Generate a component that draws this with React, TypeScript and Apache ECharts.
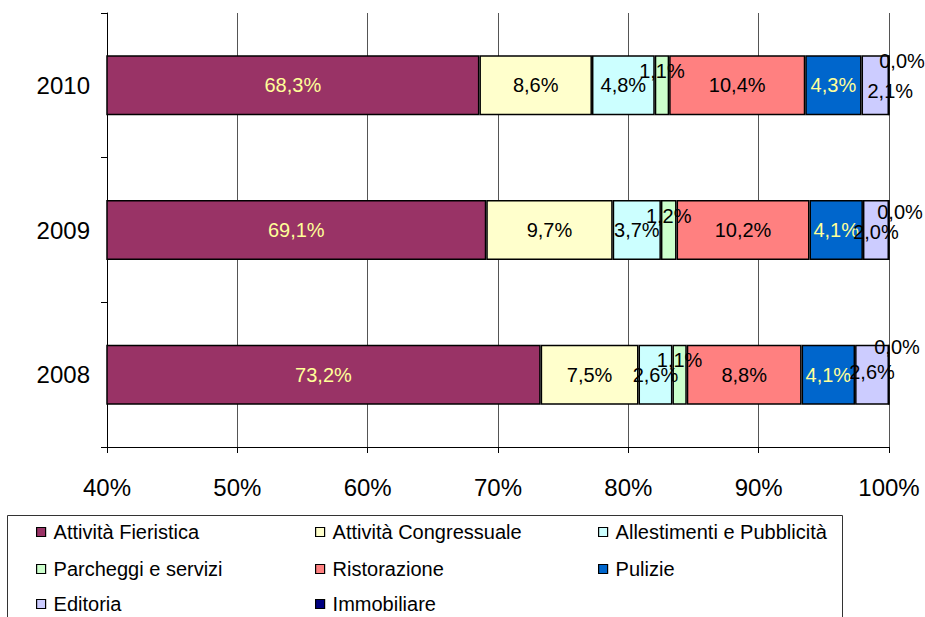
import React, { useEffect, useRef } from "react";
import * as echarts from "echarts";

const years = ["2008", "2009", "2010"];
const seriesNames = [
  "Attività Fieristica",
  "Attività Congressuale",
  "Allestimenti e Pubblicità",
  "Parcheggi e servizi",
  "Ristorazione",
  "Pulizie",
  "Editoria",
  "Immobiliare",
];
// values per series, order: 2008, 2009, 2010
const fieristica = [73.2, 69.1, 68.3];
const congressuale = [7.5, 9.7, 8.6];
const allestimenti = [2.6, 3.7, 4.8];
const parcheggi = [1.1, 1.2, 1.1];
const ristorazione = [8.8, 10.2, 10.4];
const pulizie = [4.1, 4.1, 4.3];
const editoria = [2.6, 2.0, 2.1];
const immobiliare = [0.0, 0.0, 0.0];
const xTicks = [40, 50, 60, 70, 80, 90, 100];

const allValues = [fieristica, congressuale, allestimenti, parcheggi, ristorazione, pulizie, editoria, immobiliare];
const colors = ["#993366", "#FFFFCC", "#CCFFFF", "#CCFFCC", "#FF8080", "#0066CC", "#CCCCFF", "#000080"];
const labelColors = ["#FFFF99", "#000", "#000", "#000", "#000", "#FFFF99", "#000", "#000"];
// label offsets per series per year (layout only)
const labelOffsets: Record<number, number[][]> = {
  3: [[0, -15], [0, -14], [0, -14]],
  6: [[0, -3], [0, 2], [15, 6]],
  7: [[8, -28], [11, -18], [13, -24]],
};

const fmt = (v: number) => v.toFixed(1).replace(".", ",") + "%";

export default function App() {
  const ref = useRef<HTMLDivElement>(null);
  useEffect(() => {
    if (!ref.current) return;
    const chart = echarts.init(ref.current, undefined, { renderer: "svg" });
    const totals = years.map((_, i) => allValues.reduce((s, arr) => s + arr[i], 0));
    const font = "Liberation Sans, Arial, sans-serif";
    const series = seriesNames.map((name, si) => ({
      name,
      type: "bar",
      stack: "total",
      barWidth: 60,
      clip: si === 7 ? false : true,
      itemStyle: { color: colors[si], borderColor: "#000", borderWidth: 1.5 },
      label: {
        show: true,
        position: "inside",
        color: labelColors[si],
        fontSize: 20,
        fontFamily: font,
      },
      data: allValues[si].map((v, i) => {
        const lab: any = { formatter: () => fmt(v) };
        if (labelOffsets[si]) lab.offset = labelOffsets[si][i];
        return {
          value: (v / totals[i]) * 100,
          label: lab,
        };
      }),
    }));

    const legendPos = [
      [36, 532], [315, 532], [598, 532],
      [36, 569], [315, 569], [598, 569],
      [36, 604], [315, 604],
    ];
    const legends = seriesNames.map((name, i) => ({
      data: [name],
      left: legendPos[i][0],
      top: legendPos[i][1] - 11,
      itemWidth: 9,
      itemHeight: 9,
      itemGap: 0,
      padding: 0,
      icon: "rect",
      itemStyle: { borderColor: "#000", borderWidth: 1.2 },
      textStyle: { fontSize: 20, fontFamily: font, color: "#000", padding: [0, 0, 0, 3], lineHeight: 22 },
      selectedMode: false,
    }));

    chart.setOption({
      animation: false,
      textStyle: { fontFamily: font },
      grid: { left: 107, right: 36, top: 13, bottom: 170, containLabel: false },
      xAxis: {
        type: "value",
        min: xTicks[0],
        max: xTicks[xTicks.length - 1],
        interval: 10,
        axisLine: { show: true, lineStyle: { color: "#000", width: 1 } },
        axisTick: { show: true, length: 6, lineStyle: { color: "#000" } },
        axisLabel: { formatter: "{value}%", fontSize: 24, color: "#000", margin: 28, fontFamily: font },
        splitLine: { show: true, lineStyle: { color: "#555", width: 1 } },
      },
      yAxis: {
        type: "category",
        data: years,
        axisLine: { show: true, lineStyle: { color: "#000", width: 1 } },
        axisTick: { show: true, length: 6, lineStyle: { color: "#000" } },
        axisLabel: { fontSize: 24, color: "#000", margin: 17, fontFamily: font },
      },
      legend: legends,
      graphic: [
        {
          type: "rect",
          shape: { x: 7.5, y: 515.5, width: 835, height: 130 },
          style: { fill: "none", stroke: "#333", lineWidth: 1 },
          silent: true,
          z: -1,
        },
      ],
      series,
    });
    return () => chart.dispose();
  }, []);
  return <div ref={ref} style={{ width: 925, height: 617, position: "absolute", left: 0, top: 0 }} />;
}
